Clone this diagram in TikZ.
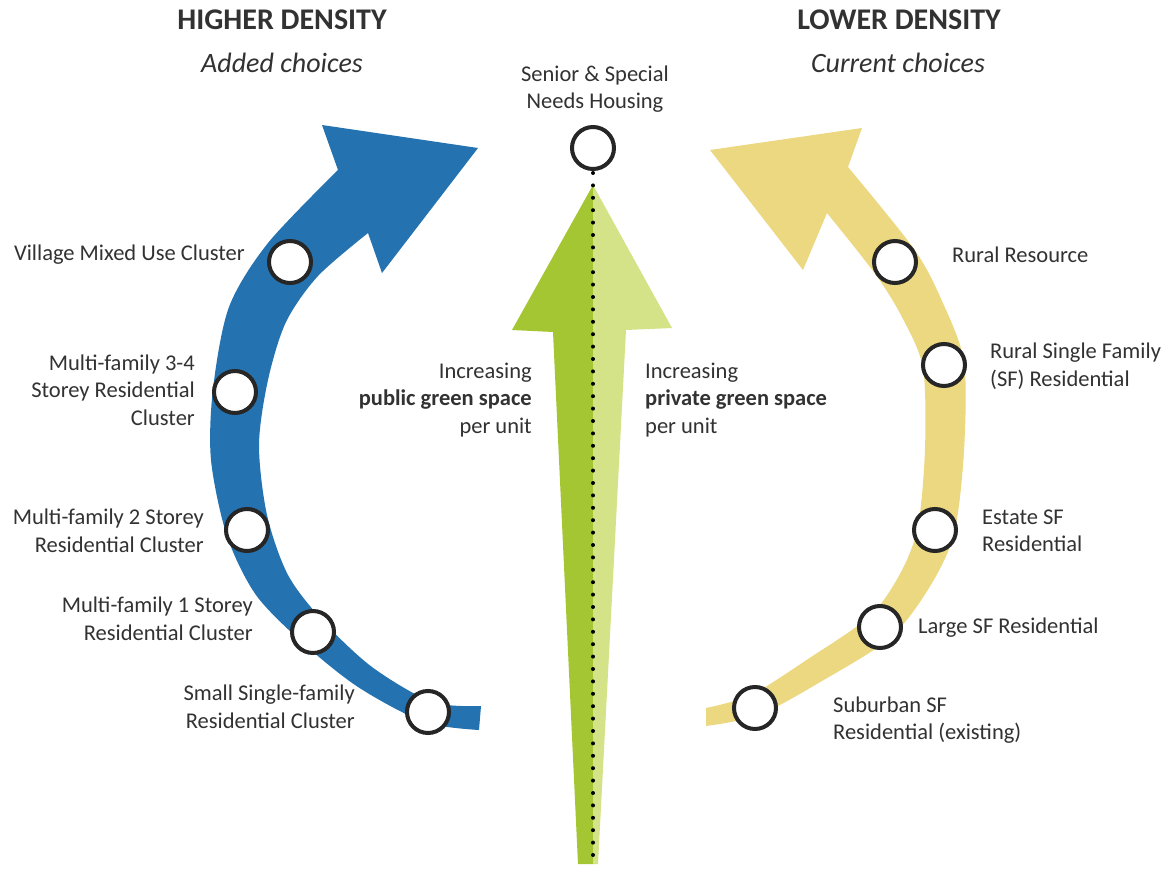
\documentclass[tikz,border=0pt]{standalone}
\usepackage{fontspec}
\setmainfont{Carlito}
\definecolor{bandblue}{RGB}{36,115,176}
\definecolor{bandgold}{RGB}{236,216,128}
\definecolor{leafdark}{RGB}{164,198,50}
\definecolor{leaflight}{RGB}{212,227,135}
\definecolor{inkgrey}{RGB}{50,50,50}

\begin{document}
\begin{tikzpicture}[x=1pt,y=-1pt,
  station/.style={circle, draw=black!85, line width=4pt, fill=white, minimum size=42pt, inner sep=0pt},
  lbl/.style={font=\fontsize{22.5}{27.5}\selectfont, text=inkgrey, inner sep=0pt},
  heading/.style={font=\fontsize{30}{36}\selectfont\bfseries, text=inkgrey, inner sep=0pt},
  subheading/.style={font=\fontsize{28}{34}\selectfont\itshape, text=inkgrey, inner sep=0pt},
  dots/.style={line width=4pt, line cap=round, dash pattern=on 0pt off 12.4pt}]
\useasboundingbox (0,0) rectangle (1171,891);
\fill[white] (0,0) rectangle (1171,891);

% headings
\node[heading] (hi) at (282,20) {HIGHER DENSITY};
\node[subheading] (hisub) at (282,63) {Added choices};
\node[heading] (lo) at (899,20) {LOWER DENSITY};
\node[subheading] (losub) at (898,63) {Current choices};

% blue band, small end to the head
\fill[bandblue] plot[smooth] coordinates {(479,730) (424,722) (358,687) (303,643) (256,595) (227,536) (211,460) (213,389) (229,307) (268,243) (338,170)}
  -- (322,125) -- (478,148) -- (382,273) -- (368,233)
  -- plot[smooth] coordinates {(368,233) (318,276) (286,322) (268,380) (259,445) (267,515) (288,575) (323,621) (372,667) (432,702) (481,706)}
  -- cycle;

% gold band
\fill[bandgold] plot[smooth] coordinates {(706,726) (759,715) (822,681) (890,638) (929,588) (954,534) (964,451) (964,362) (942,301) (914,249) (848,167)}
  -- (862,128) -- (710,150) -- (803,270) -- (827,213)
  -- plot[smooth] coordinates {(827,213) (876,275) (903,319) (923,368) (925,449) (918,526) (901,572) (870,616) (808,659) (751,695) (706,708)}
  -- cycle;

% green arrow in two halves
\fill[leafdark] (593,185) -- (512,330) -- (553,332) -- (578,864) -- (593,864) -- cycle;
\fill[leaflight] (593,185) -- (672,328) -- (626,330) -- (598,864) -- (593,864) -- cycle;

% stations
\node[station] (senior) at (593,148) {};
\node[station] (vmix) at (290,262) {};
\node[station] (mf34) at (235,392) {};
\node[station] (mf2) at (247,530) {};
\node[station] (mf1) at (313,632) {};
\node[station] (ssf) at (428,712) {};
\node[station] (rres) at (895,262) {};
\node[station] (rsf) at (944,365) {};
\node[station] (esf) at (935,530) {};
\node[station] (lsf) at (880,627) {};
\node[station] (subsf) at (755,708) {};

\coordinate (base) at (593,866);
\draw[dots] ([yshift=-2pt]senior.south) -- (base);

% labels
\node[lbl, align=center] (seniortxt) at (595,89) {Senior \& Special\\Needs Housing};
\node[lbl, anchor=east] (vmixtxt) at (245,255) {Village Mixed Use Cluster};
\node[lbl, anchor=east, align=right] (mf34txt) at (195,390) {Multi-family 3-4\\Storey Residential\\Cluster};
\node[lbl, anchor=east, align=right] (mf2txt) at (204,531) {Multi-family 2 Storey\\Residential Cluster};
\node[lbl, anchor=east, align=right] (mf1txt) at (253,619) {Multi-family 1 Storey\\Residential Cluster};
\node[lbl, anchor=east, align=right] (ssftxt) at (355,707) {Small Single-family\\Residential Cluster};

\node[lbl, anchor=west] (rrestxt) at (952,255) {Rural Resource};
\node[lbl, anchor=west, align=left] (rsftxt) at (990,366) {Rural Single Family\\(SF) Residential};
\node[lbl, anchor=west, align=left] (esftxt) at (982,531) {Estate SF\\Residential};
\node[lbl, anchor=west] (lsftxt) at (918,628) {Large SF Residential};
\node[lbl, anchor=west, align=left] (subsftxt) at (833,720) {Suburban SF\\Residential (existing)};

\node[lbl, anchor=east, align=right] (pubtxt) at (532,400) {Increasing\\\textbf{public green space}\\per unit};
\node[lbl, anchor=west, align=left] (privtxt) at (645,400) {Increasing\\\textbf{private green space}\\per unit};
\end{tikzpicture}
\end{document}
